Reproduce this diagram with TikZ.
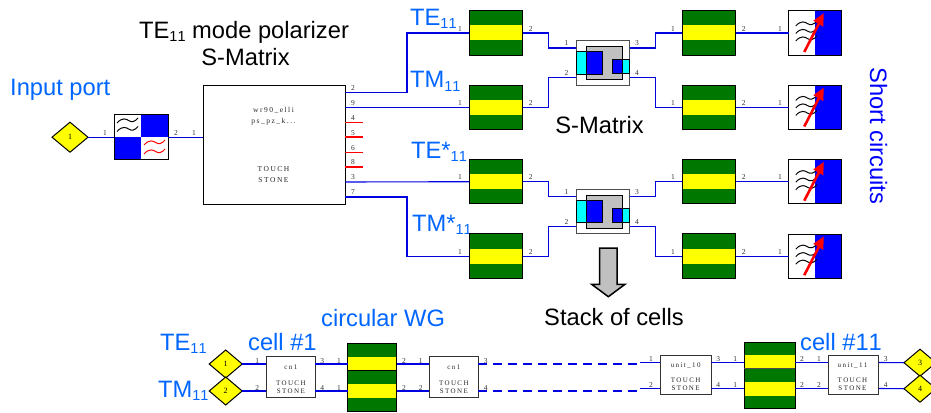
\documentclass[tikz,border=0pt]{standalone}
\usepackage{fontspec}
\setmainfont{Liberation Sans}
\newfontfamily\portfont{Liberation Serif}
\newfontfamily\boxfont[LetterSpace=20]{Liberation Serif}
\usetikzlibrary{calc,shapes.geometric}
\definecolor{lblblue}{RGB}{0,102,255}
\definecolor{wgreen}{RGB}{0,120,0}
\definecolor{sgray}{RGB}{192,192,192}
\definecolor{wireblue}{RGB}{0,0,225}
\definecolor{scyan}{RGB}{0,255,255}
\definecolor{sblue}{RGB}{0,0,255}
\definecolor{syellow}{RGB}{255,255,0}
\newcounter{plab}
\newcommand\sbsub{\raisebox{-3pt}{\fontsize{14.5}{15}\selectfont 1\kern0pt 1}}
\newcommand\plabel[3]{\stepcounter{plab}\node[portlab] (pl\theplab) at (#1,#2) {#3};}
\newcommand\wavy[4]{\draw[#1,line width=1pt,shift={(#2,#3)},xscale=#4] (0,0) .. controls (.25,-6) and (.45,-4) .. (.55,-2.5) .. controls (.7,-.5) and (.85,-1) .. (1,-5);}
\newcommand\wgbox[3]{\begin{scope}[shift={(#2,#3)}]
  \node[wgnode] (#1) at (0,0) {};
  \fill[syellow] (-26.7,-7.5) rectangle (26.7,7.5);
  \draw[edge] (#1.north west) rectangle (#1.south east);
\end{scope}}
\newcommand\shortbox[2]{\begin{scope}[shift={(815.25,#2)}]
  \node[shortnode] (#1) at (0,0) {};
  \fill[sblue] (0,-22.2) rectangle (26.7,22.2);
  \draw[edge] (#1.north west) rectangle (#1.south east);
  \wavy{black}{-19.5}{-7}{21}
  \wavy{black}{-19.5}{.5}{21}
  \wavy{black}{-19.5}{8}{21}
  \draw[red,line width=2.6pt] (-11,19) -- (5,-12);
  \fill[red] (8.5,-19.7) -- (-2,-12.3) -- (8,-6.3) -- cycle;
\end{scope}}
\newcommand\smatbox[2]{\begin{scope}[shift={(#2)}]
  \node[snode] (#1) at (0,0) {};
  \draw[edge,fill=sgray] (-16.75,-16.25) rectangle (19.75,16.75);
  \draw[edge,fill=scyan] (-26.75,-10.75) rectangle (-16.75,11.25);
  \draw[edge,fill=sblue] (-16.75,-10.75) rectangle (0,11.25);
  \draw[edge,fill=sblue] (9.25,-2.75) rectangle (20,11);
  \draw[edge,fill=scyan] (20,-2.75) rectangle (26.75,11);
  \coordinate (#1-1) at (-26.75,-14.75);
  \coordinate (#1-2) at (-26.75,15);
  \coordinate (#1-3) at (26.75,-14.75);
  \coordinate (#1-4) at (26.75,15);
\end{scope}}
\newcommand\lsize{\fontsize{23.7}{27}\selectfont}
\begin{document}
\begin{tikzpicture}[x=1pt,y=-1pt,
  wire/.style={wireblue,line width=1.1pt},
  edge/.style={draw=black,line width=1pt},
  wgnode/.style={rectangle,draw=black,line width=1pt,fill=wgreen,minimum width=53.4pt,minimum height=44.5pt,inner sep=0,outer sep=0},
  shortnode/.style={rectangle,draw=black,line width=1pt,fill=white,minimum width=53.4pt,minimum height=44.4pt,inner sep=0,outer sep=0},
  snode/.style={rectangle,draw=black!70,line width=1pt,fill=white,minimum width=53.5pt,minimum height=44.5pt,inner sep=0,outer sep=0},
  portlab/.style={font=\portfont\fontsize{7.5}{8}\selectfont,text=black!80,inner sep=0},
  boxtxt/.style={font=\boxfont\fontsize{7}{8}\selectfont,text=black!85,inner sep=0},
  tsnode/.style={rectangle,draw=black,line width=1pt,fill=white,inner sep=0,outer sep=0},
  cellnode/.style={rectangle,draw=black!80,line width=1pt,fill=white,inner sep=0,outer sep=0,minimum width=49pt,minimum height=41pt},
  diam/.style={diamond,draw=black,line width=1pt,fill=syellow,inner sep=0,outer sep=0,font=\portfont\fontsize{8}{8}\selectfont},
  lbl/.style={anchor=base west,text=lblblue,font=\lsize,inner sep=0},
  blk/.style={anchor=base,text=black,font=\lsize,inner sep=0},
]
\clip (0,0) rectangle (931,412);
\fill[white] (0,0) rectangle (931,412);

% ---- texts
\node[blk,anchor=base west] (title) at (139,38) {TE\sbsub{} mode polarizer};
\node[blk] (titleb) at (245.5,66) {S-Matrix};
\node[lbl] (inp) at (10,95) {Input port};
\node[lbl] (te) at (410,26) {TE\sbsub};
\node[lbl] (tm) at (410,88) {TM\sbsub};
\node[lbl] (tes) at (411,158) {TE*\sbsub};
\node[lbl] (tms) at (412,231) {TM*\sbsub};
\node[blk] (smat) at (599.5,133) {S-Matrix};
\node[blk] (stack) at (614,325) {Stack of cells};
\node[lbl] (circ) at (321,326) {circular WG};
\node[lbl] (c1) at (248,350) {cell \#1};
\node[lbl] (c11) at (800,350) {cell \#1\kern0pt 1};
\node[lbl] (bte) at (160,350) {TE\sbsub};
\node[lbl] (btm) at (158,397) {TM\sbsub};
\node[anchor=base west,rotate=-90,text=blue,font=\lsize,inner sep=0] (sc) at (870,67) {Short circuits};

% ---- input
\node[diam,minimum width=36pt,minimum height=30pt] (in1) at (70,137.2) {1};
\node[rectangle,draw=black,line width=1pt,fill=white,minimum width=54pt,minimum height=44.5pt,inner sep=0,outer sep=0] (filt) at (141,137.2) {};
\fill[sblue] (141,115) rectangle (168,137.2);
\fill[sblue] (114,137.2) rectangle (141,159.5);
\draw[edge] (filt.north west) rectangle (filt.south east);
\wavy{black}{117}{123}{21}
\wavy{black}{117}{131.5}{21}
\wavy{red}{144}{145}{21}
\wavy{red}{144}{154}{21}

% ---- touchstone
\node[tsnode,minimum width=142pt,minimum height=119pt] (ts) at (274,144.5) {};
\begin{scope}[every node/.style={boxtxt,font=\boxfont\fontsize{7.5}{8}\selectfont}]
\node (ts1) at (273.5,110.5) {wr90\_elli};
\node (ts2) at (273.5,122) {ps\_pz\_k...};
\node (ts3) at (273.5,169) {TOUCH};
\node (ts4) at (273.5,180) {STONE};
\end{scope}
\foreach \n/\y in {2/92.5,9/107.5,4/122.5,5/137,6/152.5,8/167,3/182,7/197}{\coordinate (ts-\n) at (345,\y);}
\coordinate (ts-in) at (203,137.2);
\foreach \n in {4,5,6,8}{\draw[red,line width=1.2pt] (ts-\n) -- ++(18,0);}

% ---- waveguide sections
\wgbox{wa}{496}{33}
\wgbox{wb}{496}{107.5}
\wgbox{wc}{496}{181.7}
\wgbox{wd}{496}{256.2}
\wgbox{we}{709}{33}
\wgbox{wf}{709}{107.5}
\wgbox{wg}{709}{181.7}
\wgbox{wh}{709}{256.2}
\smatbox{sa}{602.75,62.75}
\smatbox{sb}{602.75,211.5}
\shortbox{ra}{33}
\shortbox{rb}{107.5}
\shortbox{rc}{181.7}
\shortbox{rd}{256.2}

% ---- wires, top part
\draw[wire] (in1.east) -- (filt.west);
\draw[wire] (filt.east) -- (ts-in);
\draw[wire] (ts-2) -- ++(62,0) |- (wa.west);
\draw[wire] (ts-9) -- (wb.west);
\draw[wire] (ts-3) -- (wc.west);
\draw[wire] (ts-7) -- ++(62,0) |- (wd.west);
\draw[wire] (wa.east) -- ++(26,0) |- (sa-1);
\draw[wire] (wb.east) -- ++(26,0) |- (sa-2);
\draw[wire] (wc.east) -- ++(26,0) |- (sb-1);
\draw[wire] (wd.east) -- ++(26,0) |- (sb-2);
\draw[wire] (sa-3) -- ++(26,0) |- (we.west);
\draw[wire] (sa-4) -- ++(26,0) |- (wf.west);
\draw[wire] (sb-3) -- ++(26,0) |- (wg.west);
\draw[wire] (sb-4) -- ++(26,0) |- (wh.west);
\draw[wire] (we.east) -- (ra.west);
\draw[wire] (wf.east) -- (rb.west);
\draw[wire] (wg.east) -- (rc.west);
\draw[wire] (wh.east) -- (rd.west);

% ---- big arrow
\draw[fill=sgray,draw=black,line width=1.5pt,line join=miter] (599.5,248) -- (617,248) -- (617,284.3) -- (625,284.3) -- (608.3,296.7) -- (591.7,284.3) -- (599.5,284.3) -- cycle;

% ---- bottom chain
\node[diam,minimum width=33pt,minimum height=28pt] (d1) at (225.7,364) {1};
\node[diam,minimum width=33pt,minimum height=28pt] (d2) at (225.7,391) {2};
\node[cellnode] (ca) at (290.8,377.3) {};
\node[rectangle,draw=black,line width=1pt,fill=wgreen,minimum width=49pt,minimum height=68.4pt,inner sep=0,outer sep=0] (ga) at (372.3,377.5) {};
\fill[syellow] (348,357) rectangle (396.7,370);
\fill[syellow] (348,383.7) rectangle (396.7,398.3);
\draw[edge] (ga.north west) rectangle (ga.south east);
\draw[black,line width=1pt] (ga.west |- 0,370.4) -- (ga.east |- 0,370.4);
\node[cellnode] (cb) at (453.8,377.3) {};
\node[cellnode,minimum height=39.3pt,minimum width=50.7pt] (cc) at (685.7,375.3) {};
\node[rectangle,draw=black,line width=1pt,fill=wgreen,minimum width=50.7pt,minimum height=66.4pt,inner sep=0,outer sep=0] (gb) at (769.7,375.5) {};
\fill[syellow] (744.3,355) rectangle (795,368.3);
\fill[syellow] (744.3,381.7) rectangle (795,396);
\draw[edge] (gb.north west) rectangle (gb.south east);
\draw[black!70,line width=.8pt] (gb.west |- 0,368.8) -- (gb.east |- 0,368.8);
\node[cellnode,minimum height=39.3pt,minimum width=50.7pt] (cd) at (853.5,375.3) {};
\node[diam,minimum width=32pt,minimum height=27pt] (d3) at (920,362.7) {3};
\node[diam,minimum width=32pt,minimum height=27pt] (d4) at (920,388.7) {4};

\foreach \n/\y in {1/364,2/391}{
  \coordinate (dl\n) at (266.3,\y);
  \coordinate (dr\n) at (315.3,\y);
  \coordinate (gl\n) at (348,\y);
  \coordinate (gr\n) at (396.7,\y);
  \coordinate (el\n) at (429.3,\y);
  \coordinate (er\n) at (478.3,\y);
  \coordinate (da\n) at (640,\y);
}
\foreach \n/\y in {1/362.5,2/388.5}{
  \coordinate (fl\n) at (660.3,\y);
  \coordinate (fr\n) at (711,\y);
  \coordinate (hl\n) at (744.3,\y);
  \coordinate (hr\n) at (795,\y);
  \coordinate (il\n) at (828.2,\y);
  \coordinate (ir\n) at (878.8,\y);
}
\draw[wire] (d1.east) -- (dl1);
\draw[wire] (d2.east) -- (dl2);
\foreach \n in {1,2}{
  \draw[wire] (dr\n) -- (gl\n);
  \draw[wire] (gr\n) -- (el\n);
  \draw[wire,line width=1.6pt,dash pattern=on 9pt off 6pt] (er\n) -- (da\n);
  \draw[wire] (da\n |- fl\n) -- (fl\n);
  \draw[wire] (fr\n) -- (hl\n);
  \draw[wire] (hr\n) -- (il\n);
}
\draw[wire] (ir1) -- (d3.west);
\draw[wire] (ir2) -- (d4.west);

\begin{scope}[every node/.style={boxtxt}]
\node (ba1) at (290.8,367.7) {cn1};
\node (ba2) at (290.8,383) {TOUCH};
\node (ba3) at (290.8,391) {STONE};
\node (bb1) at (453.8,367.7) {cn1};
\node (bb2) at (453.8,383) {TOUCH};
\node (bb3) at (453.8,391) {STONE};
\node (bc1) at (685.7,365.7) {unit\_10};
\node (bc2) at (685.7,380.5) {TOUCH};
\node (bc3) at (685.7,388.7) {STONE};
\node (bd1) at (852.5,365.7) {unit\_11};
\node (bd2) at (852.5,380.5) {TOUCH};
\node (bd3) at (852.5,388.7) {STONE};
\end{scope}

% ---- port numbers
\plabel{105}{133}{1}
\plabel{176}{133}{2}
\plabel{194}{133}{1}
\foreach \n/\y in {2/88,9/103,4/118,5/133,6/148,8/162,3/177,7/192}{\plabel{353}{\y}{\n}}
\foreach \y in {29,103,177.3,252}{
  \plabel{460}{\y}{1}
  \plabel{530.7}{\y}{2}
  \plabel{673}{\y}{1}
  \plabel{743.7}{\y}{2}
  \plabel{780}{\y}{1}
}
\foreach \pa/\pb in {43/73,192/222}{
  \plabel{566.5}{\pa}{1}
  \plabel{566.5}{\pb}{2}
  \plabel{637}{\pa}{3}
  \plabel{637}{\pb}{4}
}
\foreach \y/\pa/\pb/\pc in {361/1/3/1,387.7/2/4/2}{
  \plabel{257.3}{\y}{\pa}
  \plabel{322.3}{\y}{\pb}
  \plabel{339}{\y}{1}
  \plabel{404}{\y}{2}
  \plabel{420.7}{\y}{\pc}
  \plabel{485.7}{\y}{\pb}
}
\foreach \y/\pa/\pb/\pc in {359.3/1/3/1,385/2/4/2}{
  \plabel{651}{\y}{\pa}
  \plabel{718.3}{\y}{\pb}
  \plabel{735.3}{\y}{1}
  \plabel{802}{\y}{2}
  \plabel{819}{\y}{\pc}
  \plabel{885.7}{\y}{\pb}
}
\end{tikzpicture}
\end{document}
